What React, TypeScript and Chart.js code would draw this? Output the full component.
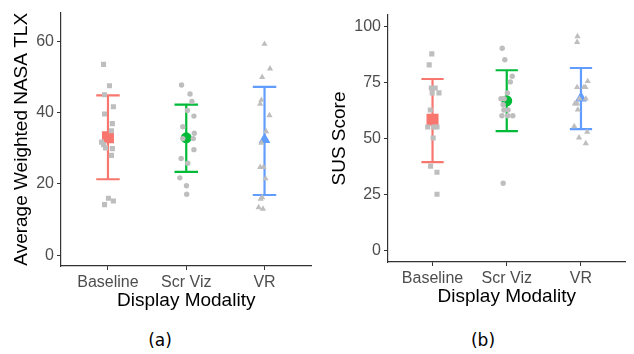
import React, { useEffect, useRef } from "react";
import { Chart, registerables } from "chart.js";

Chart.register(...registerables);

// ---------- data ----------
const categories = ["Baseline", "Scr Viz", "VR"];

// [horizontal jitter (category units), value]
const tlxBaseline: [number, number][] = [
  [-0.056, 53.5], [0.019, 47.5], [-0.044, 45.0], [0.069, 41.6], [-0.044, 39.6],
  [0.056, 36.9], [0.044, 34.9], [-0.082, 31.7], [-0.056, 31.0], [-0.031, 30.1],
  [0.056, 29.9], [0.044, 28.0], [0.006, 16.0], [0.069, 15.2], [-0.044, 14.2],
];
const tlxScrViz: [number, number][] = [
  [-0.06, 47.7], [0.048, 45.2], [0.073, 43.1], [0.015, 40.6], [0.098, 39.0],
  [-0.044, 36.0], [0.103, 34.2], [-0.044, 32.7], [0.09, 32.7], [0.098, 29.6],
  [-0.065, 27.1], [0.019, 25.8], [-0.082, 21.7], [0.003, 19.5], [0.006, 17.1],
];
const tlxVR: [number, number][] = [
  [0.0, 59.2], [0.07, 52.3], [-0.03, 49.9], [-0.04, 43.5], [-0.055, 42.4],
  [0.063, 39.2], [0.02, 34.7], [-0.04, 31.5], [-0.055, 24.7], [-0.013, 24.7],
  [0.013, 21.5], [-0.03, 16.2], [-0.05, 15.8], [-0.075, 13.4], [-0.02, 13.0],
];
const tlxMeans = [33.1, 32.9, 32.4];
const tlxLow = [21.3, 23.4, 16.9];
const tlxHigh = [44.8, 42.2, 47.2];
const tlxTicks = [0, 20, 40, 60];

const susBaseline: [number, number][] = [
  [-0.01, 87.7], [-0.045, 82.8], [-0.016, 72.5], [0.036, 72.5], [-0.005, 70.3],
  [0.087, 70.3], [-0.03, 62.7], [-0.065, 55.1], [0.017, 55.1], [0.06, 55.1],
  [0.008, 50.2], [-0.026, 37.7], [0.06, 35.0], [0.06, 25.2],
];
const susScrViz: [number, number][] = [
  [-0.061, 90.2], [-0.026, 85.1], [0.074, 77.7], [0.048, 75.2], [0.009, 70.3],
  [-0.078, 67.7], [-0.035, 67.7], [-0.048, 65.0], [-0.039, 62.7], [0.017, 62.7],
  [-0.065, 60.1], [0.013, 60.1], [0.082, 60.1], [-0.048, 30.1],
];
const susVR: [number, number][] = [
  [-0.047, 95.5], [-0.052, 92.9], [0.091, 75.5], [-0.052, 72.8], [0.039, 72.8],
  [0.061, 72.8], [-0.021, 67.7], [0.065, 67.7], [-0.082, 65.5], [-0.052, 65.5],
  [-0.043, 62.8], [-0.091, 55.4], [0.084, 52.9], [-0.026, 50.4], [0.065, 47.8],
];
const susMeans = [58.3, 66.8, 68.0];
const susLow = [39.5, 53.3, 54.2];
const susHigh = [76.5, 80.4, 81.4];
const susTicks = [0, 25, 50, 75, 100];

// ---------- styles ----------
const groupColors = ["#F8766D", "#00BA38", "#619CFF"];
const shapes = ["rect", "circle", "triangle"];
const grayRadius = [3.6, 2.7, 3.6];
const meanRadius = [8.5, 5.5, 6.8];
const capHalf = 0.15;
const FONT = "'Liberation Sans', Arial, sans-serif";

type PanelProps = {
  left: number;
  width: number;
  height: number;
  groups: [number, number][][];
  means: number[];
  low: number[];
  high: number[];
  ticks: number[];
  yMin: number;
  yMax: number;
  yTitle: string;
  yAxisWidth: number;
  xAxisHeight: number;
  padTop: number;
  padRight: number;
  yTitlePad: number;
  xTitlePad: number;
};

function Panel(p: PanelProps) {
  const ref = useRef<HTMLCanvasElement>(null);
  useEffect(() => {
    if (!ref.current) return;
    const datasets: any[] = [];
    p.groups.forEach((g, i) => {
      datasets.push({
        type: "scatter",
        data: g.map(([dx, v]) => ({ x: i + 1 + dx, y: v })),
        pointStyle: shapes[i],
        pointRadius: grayRadius[i],
        backgroundColor: "#BEBEBE",
        borderWidth: 0,
      });
    });
    p.means.forEach((m, i) => {
      datasets.push({
        type: "scatter",
        data: [{ x: i + 1, y: m }],
        pointStyle: shapes[i],
        pointRadius: meanRadius[i],
        backgroundColor: groupColors[i],
        borderWidth: 0,
      });
    });
    p.means.forEach((_, i) => {
      const c = i + 1;
      datasets.push({
        type: "scatter",
        showLine: true,
        spanGaps: false,
        data: [
          { x: c - capHalf, y: p.high[i] },
          { x: c + capHalf, y: p.high[i] },
          { x: c, y: null },
          { x: c, y: p.high[i] },
          { x: c, y: p.low[i] },
          { x: c, y: null },
          { x: c - capHalf, y: p.low[i] },
          { x: c + capHalf, y: p.low[i] },
        ],
        borderColor: groupColors[i],
        borderWidth: 2.2,
        pointRadius: 0,
        borderCapStyle: "butt",
      });
    });

    const chart = new Chart(ref.current, {
      type: "scatter",
      data: { datasets },
      options: {
        animation: false,
        responsive: false,
        devicePixelRatio: 1,
        layout: { padding: { top: p.padTop, right: p.padRight, left: 0, bottom: 0 } },
        plugins: { legend: { display: false }, tooltip: { enabled: false } },
        scales: {
          x: {
            type: "linear",
            min: 0.4,
            max: 3.6,
            afterBuildTicks: (s: any) => {
              s.ticks = [1, 2, 3].map((v) => ({ value: v }));
            },
            afterFit: (s: any) => {
              s.height = p.xAxisHeight;
            },
            ticks: {
              callback: (_v: any, idx: number) => categories[idx],
              font: { family: FONT, size: 16 },
              color: "#4D4D4D",
              padding: 3,
              maxRotation: 0,
              autoSkip: false,
            },
            grid: { drawOnChartArea: false, drawTicks: true, tickLength: 4, color: "#333333", lineWidth: 1 },
            border: { display: true, color: "#333333", width: 1.2 },
            title: {
              display: true,
              text: "Display Modality",
              font: { family: FONT, size: 19 },
              color: "#000000",
              padding: { top: 0, bottom: p.xTitlePad },
            },
          },
          y: {
            type: "linear",
            min: p.yMin,
            max: p.yMax,
            afterBuildTicks: (s: any) => {
              s.ticks = p.ticks.map((v) => ({ value: v }));
            },
            afterFit: (s: any) => {
              s.width = p.yAxisWidth;
            },
            ticks: {
              font: { family: FONT, size: 16 },
              color: "#4D4D4D",
              padding: 3,
            },
            grid: { drawOnChartArea: false, drawTicks: true, tickLength: 4, color: "#333333", lineWidth: 1 },
            border: { display: true, color: "#333333", width: 1.2 },
            title: {
              display: true,
              text: p.yTitle,
              font: { family: FONT, size: 19 },
              color: "#000000",
              padding: { top: p.yTitlePad, bottom: 0 },
            },
          },
        },
      },
    } as any);
    return () => chart.destroy();
  }, []);
  return (
    <canvas
      ref={ref}
      width={p.width}
      height={p.height}
      style={{ position: "absolute", left: p.left, top: 0, width: p.width, height: p.height }}
    />
  );
}

const captionStyle: React.CSSProperties = {
  position: "absolute",
  top: 328,
  width: 40,
  textAlign: "center",
  fontFamily: "'DejaVu Sans', sans-serif",
  fontSize: 17,
  lineHeight: "24px",
  color: "#000",
};

export default function App() {
  return (
    <div style={{ position: "absolute", left: 0, top: 0, width: 634, height: 354, background: "#fff", overflow: "hidden" }}>
      <Panel
        left={0}
        width={320}
        height={320}
        groups={[tlxBaseline, tlxScrViz, tlxVR]}
        means={tlxMeans}
        low={tlxLow}
        high={tlxHigh}
        ticks={tlxTicks}
        yMin={-3}
        yMax={68}
        yTitle="Average Weighted NASA TLX"
        yAxisWidth={61}
        xAxisHeight={54}
        padTop={11}
        padRight={4}
        yTitlePad={10}
        xTitlePad={8}
      />
      <Panel
        left={320}
        width={314}
        height={320}
        groups={[susBaseline, susScrViz, susVR]}
        means={susMeans}
        low={susLow}
        high={susHigh}
        ticks={susTicks}
        yMin={-5}
        yMax={105}
        yTitle="SUS Score"
        yAxisWidth={68}
        xAxisHeight={58}
        padTop={15}
        padRight={1}
        yTitlePad={8}
        xTitlePad={12}
      />
      <div style={{ ...captionStyle, left: 140 }}>(a)</div>
      <div style={{ ...captionStyle, left: 463 }}>(b)</div>
    </div>
  );
}
